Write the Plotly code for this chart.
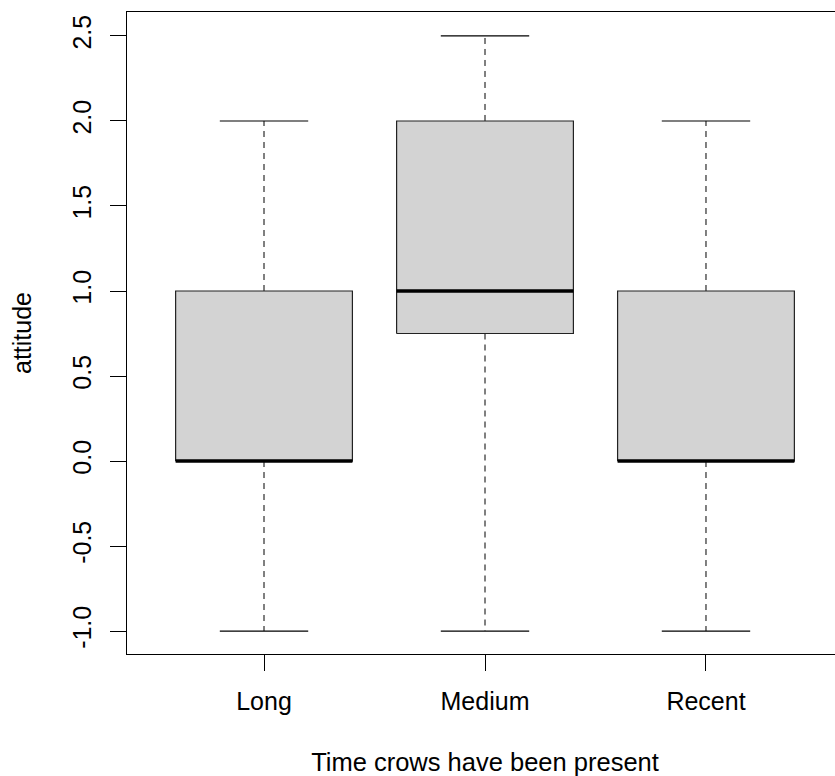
import plotly.graph_objects as go

categories = ["Long", "Medium", "Recent"]
whisker_low = [-1.0, -1.0, -1.0]
q1 = [0.0, 0.75, 0.0]
median = [0.0, 1.0, 0.0]
q3 = [1.0, 2.0, 1.0]
whisker_high = [2.0, 2.5, 2.0]
y_ticks = [-1.0, -0.5, 0.0, 0.5, 1.0, 1.5, 2.0, 2.5]

BOX_HALF = 0.4
CAP_HALF = 0.2
FONT = "Liberation Sans, Arial, sans-serif"
FS = 25

fig = go.Figure()
for i, cat in enumerate(categories):
    c = i + 1
    # whiskers (dashed)
    fig.add_trace(go.Scatter(x=[c, c], y=[q3[i], whisker_high[i]], mode="lines",
                             line=dict(color="black", width=1, dash="6px,5px"),
                             showlegend=False, hoverinfo="skip"))
    fig.add_trace(go.Scatter(x=[c, c], y=[q1[i], whisker_low[i]], mode="lines",
                             line=dict(color="black", width=1, dash="6px,5px"),
                             showlegend=False, hoverinfo="skip"))
    # caps
    fig.add_trace(go.Scatter(x=[c - CAP_HALF, c + CAP_HALF], y=[whisker_high[i]] * 2, mode="lines",
                             line=dict(color="black", width=1.2), showlegend=False, hoverinfo="skip"))
    fig.add_trace(go.Scatter(x=[c - CAP_HALF, c + CAP_HALF], y=[whisker_low[i]] * 2, mode="lines",
                             line=dict(color="black", width=1.2), showlegend=False, hoverinfo="skip"))
    # box
    fig.add_trace(go.Scatter(x=[c - BOX_HALF, c + BOX_HALF, c + BOX_HALF, c - BOX_HALF, c - BOX_HALF],
                             y=[q1[i], q1[i], q3[i], q3[i], q1[i]], mode="lines", fill="toself",
                             fillcolor="#d3d3d3", line=dict(color="#222222", width=1.2),
                             showlegend=False, hoverinfo="skip", name=cat))
    # median
    fig.add_trace(go.Scatter(x=[c - BOX_HALF, c + BOX_HALF], y=[median[i]] * 2, mode="lines",
                             line=dict(color="black", width=3.5), showlegend=False, hoverinfo="skip"))

fig.update_layout(
    width=843, height=776,
    margin=dict(l=127, r=0, t=12, b=122, autoexpand=False),
    plot_bgcolor="white", paper_bgcolor="white",
    font=dict(family=FONT, size=FS, color="black"),
)
fig.update_xaxes(
    range=[0.38, 3.62], tickvals=[1, 2, 3], ticktext=categories,
    showgrid=False, zeroline=False, showline=True, mirror=True,
    linecolor="black", linewidth=1.2, ticks="outside", ticklen=16, tickwidth=1.2,
    tickcolor="black", ticklabelstandoff=9,
    title=dict(text="Time crows have been present", standoff=40, font=dict(size=25.5)),
)
fig.update_yaxes(
    range=[-1.135, 2.641], tickvals=y_ticks, ticktext=[f"{v:.1f}" for v in y_ticks],
    tickangle=-90, showgrid=False, zeroline=False, showline=True, mirror=False,
    linecolor="black", linewidth=1.2, ticks="outside", ticklen=16, tickwidth=1.2,
    tickcolor="black", ticklabelstandoff=9,
    title=dict(text="attitude", standoff=29, font=dict(size=FS)),
)

fig.write_html(
    "out.html",
    config={"displayModeBar": False},
    post_script="document.body.style.margin='0';document.body.style.overflow='hidden';",
)
